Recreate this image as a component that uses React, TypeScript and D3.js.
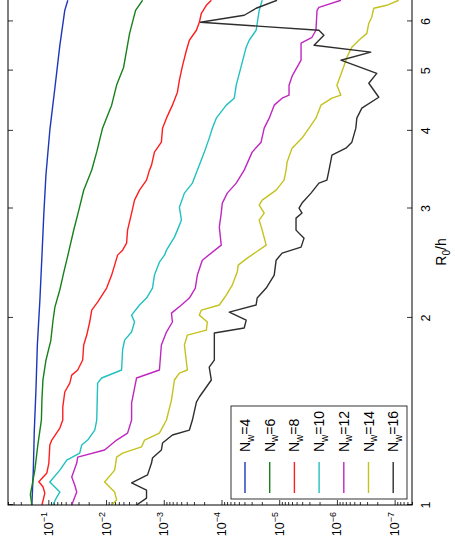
import React, { useEffect, useRef } from 'react';
import * as d3 from 'd3';

// [R0/h, error] pairs
const nw4 = [
  [1.0, 0.193], [1.14, 0.182], [1.32, 0.175], [1.53, 0.164], [1.81, 0.155], [2.14, 0.14],
  [2.52, 0.129], [2.93, 0.12], [3.4, 0.11], [4.01, 0.0942], [4.68, 0.0772], [5.49, 0.0632],
  [6.25, 0.0519], [6.49, 0.046],
];
const nw6 = [
  [1.0, 0.193], [1.04, 0.205], [1.07, 0.193], [1.14, 0.171], [1.25, 0.152], [1.37, 0.132],
  [1.48, 0.129], [1.59, 0.124], [1.71, 0.11], [1.84, 0.0905], [1.97, 0.0836], [2.08, 0.0772],
  [2.22, 0.0632], [2.37, 0.0539], [2.52, 0.046], [2.77, 0.0363], [2.98, 0.0297], [3.21, 0.0244],
  [3.46, 0.0177], [3.7, 0.0145], [4.04, 0.0115], [4.24, 0.00938], [4.4, 0.008], [4.74, 0.00656],
  [5.06, 0.00497], [5.74, 0.00391], [6.25, 0.00308], [6.49, 0.00233],
];
const nw8 = [
  [1.0, 0.129], [1.045, 0.115], [1.07, 0.124], [1.09, 0.146], [1.126, 0.106], [1.168, 0.098],
  [1.249, 0.0942], [1.272, 0.0871], [1.33, 0.0632], [1.37, 0.0562], [1.437, 0.0562], [1.52, 0.0519],
  [1.571, 0.0425], [1.618, 0.0393], [1.649, 0.031], [1.711, 0.0254], [1.809, 0.0244], [1.877, 0.0216],
  [1.97, 0.0192], [2.059, 0.0177], [2.121, 0.014], [2.234, 0.00977], [2.344, 0.008], [2.432, 0.0071],
  [2.524, 0.00631], [2.571, 0.00517], [2.638, 0.00441], [2.769, 0.00424], [2.95, 0.00361],
  [3.094, 0.00321], [3.211, 0.00263], [3.333, 0.00199], [3.458, 0.00177], [3.523, 0.00163],
  [3.697, 0.00145], [3.836, 0.0011], [4.04, 0.00105], [4.193, 0.000898], [4.4, 0.000708],
  [4.616, 0.00058], [4.826, 0.000536], [5.083, 0.000475], [5.393, 0.000405], [5.596, 0.00036],
  [5.807, 0.000272], [5.982, 0.000242], [6.184, 0.000223], [6.37, 0.000183], [6.49, 0.00015],
];
const nw10 = [
  [1.0, 0.0836], [1.03, 0.0713], [1.049, 0.0632], [1.069, 0.0772], [1.089, 0.0942], [1.138, 0.0632],
  [1.181, 0.0479], [1.212, 0.0286], [1.249, 0.0264], [1.272, 0.0208], [1.32, 0.0157], [1.37, 0.0145],
  [1.571, 0.014], [1.601, 0.0119], [1.649, 0.00538], [1.776, 0.00517], [1.842, 0.00477],
  [1.898, 0.00361], [1.97, 0.00321], [2.021, 0.00361], [2.098, 0.00263], [2.153, 0.00199],
  [2.234, 0.00157], [2.344, 0.00145], [2.459, 0.00119], [2.524, 0.000972], [2.571, 0.000898],
  [2.698, 0.000653], [2.769, 0.00058], [2.874, 0.000494], [3.015, 0.000536], [3.176, 0.000439],
  [3.296, 0.000319], [3.458, 0.000262], [3.697, 0.000198], [3.894, 0.000163], [4.04, 0.000144],
  [4.193, 0.000123], [4.4, 0.0000826], [4.515, 0.0000601], [4.738, 0.0000555], [5.083, 0.0000455],
  [5.454, 0.0000373], [5.596, 0.0000331], [5.807, 0.0000251], [6.253, 0.0000222], [6.49, 0.0000197],
];
const nw12 = [
  [1.0, 0.0393], [1.049, 0.0322], [1.077, 0.0349], [1.109, 0.0393], [1.168, 0.0322], [1.194, 0.031],
  [1.226, 0.0106], [1.272, 0.00656], [1.305, 0.00424], [1.37, 0.00361], [1.459, 0.00361],
  [1.601, 0.00296], [1.649, 0.00119], [1.809, 0.0011], [1.898, 0.000898], [1.97, 0.000708],
  [2.036, 0.000736], [2.098, 0.000494], [2.153, 0.00036], [2.234, 0.000284], [2.344, 0.000262],
  [2.477, 0.000215], [2.619, 0.000101], [2.8, 0.000109], [2.95, 0.000101], [3.061, 0.0000968],
  [3.176, 0.0000794], [3.296, 0.0000555], [3.458, 0.0000404], [3.697, 0.0000294], [3.836, 0.0000206],
  [4.04, 0.0000182], [4.193, 0.0000149], [4.4, 0.0000122], [4.515, 0.00000891], [4.565, 0.00000675],
  [4.738, 0.00000675], [4.898, 0.00000598], [5.197, 0.00000418], [5.535, 0.00000418],
  [5.658, 0.0000027], [5.807, 0.00000231], [6.253, 0.00000221], [6.322, 0.00000205], [6.49, 8.53e-7],
];
const nw14 = [
  [1.0, 0.008], [1.019, 0.00656], [1.049, 0.0071], [1.089, 0.0106], [1.138, 0.0071], [1.194, 0.00656],
  [1.212, 0.00517], [1.24, 0.00243], [1.272, 0.00215], [1.305, 0.00119], [1.37, 0.000898],
  [1.475, 0.000736], [1.589, 0.000653], [1.63, 0.000536], [1.649, 0.00039], [1.809, 0.000439],
  [1.877, 0.00039], [1.912, 0.000183], [1.97, 0.000176], [2.021, 0.000242], [2.059, 0.000223],
  [2.098, 0.000109], [2.177, 0.0000826], [2.259, 0.000065], [2.37, 0.0000533], [2.432, 0.0000513],
  [2.496, 0.0000358], [2.619, 0.0000168], [2.769, 0.0000197], [2.874, 0.0000222], [2.95, 0.0000182],
  [3.038, 0.0000222], [3.094, 0.0000197], [3.211, 0.0000113], [3.333, 0.00000823], [3.458, 0.0000076],
  [3.563, 0.0000073], [3.752, 0.00000598], [3.894, 0.00000402], [4.04, 0.00000304], [4.193, 0.00000231],
  [4.4, 0.00000189], [4.515, 0.00000122], [4.565, 8.53e-7], [4.738, 0.000001], [5.083, 7.57e-7],
  [5.255, 6.72e-7], [5.454, 5.51e-7], [5.596, 4.17e-7], [5.74, 3.03e-7], [5.96, 2.8e-7],
  [6.095, 2.49e-7], [6.3, 2.3e-7], [6.37, 1.37e-7], [6.49, 8.49e-8],
];
const nw16 = [
  [1.0, 0.00296], [1.026, 0.00199], [1.057, 0.00199], [1.085, 0.00361], [1.118, 0.00191], [1.168, 0.00163],
  [1.19, 0.00157], [1.226, 0.0011], [1.258, 0.00105], [1.296, 0.000708], [1.32, 0.00036], [1.37, 0.000319],
  [1.464, 0.000272], [1.492, 0.000242], [1.589, 0.00015], [1.667, 0.000163], [1.711, 0.000133],
  [1.891, 0.000133], [1.927, 0.0000404], [1.984, 0.0000373], [2.044, 0.0000733], [2.098, 0.0000251],
  [2.153, 0.0000241], [2.234, 0.0000168], [2.344, 0.0000122], [2.477, 0.0000113], [2.543, 0.00000891],
  [2.6, 0.00000418], [2.688, 0.00000371], [2.769, 0.00000511], [2.895, 0.00000511], [2.95, 0.00000402],
  [3.004, 0.00000453], [3.061, 0.00000402], [3.176, 0.00000281], [3.296, 0.00000205], [3.333, 0.00000149],
  [3.458, 0.00000137], [3.656, 0.00000122], [3.752, 7.0e-7], [3.836, 5.51e-7], [4.04, 4.7e-7],
  [4.193, 4.52e-7], [4.352, 3.7e-7], [4.53, 1.88e-7], [4.772, 2.8e-7], [4.95, 2.04e-7], [5.197, 8.53e-7],
  [5.354, 2.59e-7], [5.494, 0.00000249], [5.701, 0.00000168], [5.807, 0.00000205], [5.982, 0.000232],
  [6.139, 0.0000404], [6.3, 0.0000251], [6.49, 0.0000109],
];

const series = [nw4, nw6, nw8, nw10, nw12, nw14, nw16];
const seriesNames = ['4', '6', '8', '10', '12', '14', '16'];
const seriesColors = ['#1c37b8', '#17801c', '#ff1e1e', '#22c0c0', '#c026c0', '#c4c21e', '#2e2e2e'];
const xTicks = [1, 2, 3, 4, 5, 6];
const yTickExps = [-1, -2, -3, -4, -5, -6, -7];

export default function App() {
  const ref = useRef<SVGSVGElement>(null);

  useEffect(() => {
    const svg = d3.select(ref.current);
    svg.selectAll('*').remove();

    // plot drawn in its original (landscape) frame, then turned a quarter turn
    const W = 506;
    const H = 404;
    const x = d3.scaleLog().domain([1, 6.52]).range([0, W]);
    const y = d3.scaleLog().domain([5e-8, 0.5]).range([H, 0]);

    const g = svg.append('g').attr('transform', 'translate(8,505) rotate(-90)');
    const font = 'Liberation Sans, Arial, Helvetica, sans-serif';

    g.append('clipPath').attr('id', 'plotclip')
      .append('rect').attr('width', W).attr('height', H);

    // minor log ticks
    const minor: number[] = [];
    for (let e = -8; e <= -1; e++) {
      for (let m = 2; m <= 9; m++) {
        const v = m * Math.pow(10, e);
        if (v >= 5e-8 && v <= 0.5) minor.push(v);
      }
    }
    const yMajor = yTickExps.map(e => Math.pow(10, e));

    g.append('g').call(d3.axisLeft(y).tickValues(minor).tickSize(-3).tickSizeOuter(0).tickFormat(() => ''))
      .call(a => a.select('.domain').remove());
    g.append('g').call(d3.axisLeft(y).tickValues(yMajor).tickSize(-5).tickSizeOuter(0).tickFormat(() => ''))
      .call(a => a.select('.domain').remove());
    g.append('g').attr('transform', `translate(0,${H})`)
      .call(d3.axisBottom(x).tickValues(xTicks).tickSize(-5).tickSizeOuter(0).tickFormat(() => ''))
      .call(a => a.select('.domain').remove());
    g.append('g')
      .call(d3.axisTop(x).tickValues(xTicks).tickSize(-5).tickSizeOuter(0).tickFormat(() => ''))
      .call(a => a.select('.domain').remove());
    g.selectAll('.tick line').attr('stroke', '#000').attr('stroke-width', 0.8);

    // y tick labels 10^-k
    const yl = g.append('g').attr('font-family', font).attr('font-size', 12.5).attr('fill', '#000');
    yTickExps.forEach(e => {
      const t = yl.append('text').attr('x', -7).attr('y', y(Math.pow(10, e)) + 4.5).attr('text-anchor', 'end');
      t.append('tspan').text('10');
      t.append('tspan').attr('dy', -5.5).attr('font-size', 9).text('\u2212' + Math.abs(e));
    });

    // x tick labels
    g.append('g').selectAll('text').data(xTicks).enter().append('text')
      .attr('x', d => x(d)).attr('y', H + 18)
      .attr('text-anchor', 'middle').attr('font-family', font).attr('font-size', 12.5)
      .text(d => String(d));

    // x label R_0/h
    const xl = g.append('text').attr('x', x(Math.sqrt(6.52))).attr('y', H + 34)
      .attr('text-anchor', 'middle').attr('font-family', font).attr('font-size', 14);
    xl.append('tspan').text('R');
    xl.append('tspan').attr('dy', 3.5).attr('font-size', 10).text('0');
    xl.append('tspan').attr('dy', -3.5).text('/h');

    // curves
    const line = d3.line<number[]>().x(d => x(d[0])).y(d => y(d[1]));
    const lines = g.append('g').attr('clip-path', 'url(#plotclip)');
    series.forEach((s, i) => {
      lines.append('path').datum(s).attr('d', line)
        .attr('fill', 'none').attr('stroke', seriesColors[i]).attr('stroke-width', 1.4)
        .attr('stroke-linejoin', 'round');
    });

    // box
    g.append('rect').attr('width', W).attr('height', H)
      .attr('fill', 'none').attr('stroke', '#000').attr('stroke-width', 1);

    // legend (south-west)
    const lg = g.append('g').attr('transform', 'translate(6,223)');
    lg.append('rect').attr('width', 93).attr('height', 176)
      .attr('fill', '#fff').attr('stroke', '#000').attr('stroke-width', 0.8);
    seriesNames.forEach((n, i) => {
      const cy = 14 + i * 24.7;
      lg.append('line').attr('x1', 6).attr('x2', 37).attr('y1', cy).attr('y2', cy)
        .attr('stroke', seriesColors[i]).attr('stroke-width', 1.4);
      const t = lg.append('text').attr('x', 47).attr('y', cy + 5)
        .attr('font-family', font).attr('font-size', 14);
      t.append('tspan').text('N');
      t.append('tspan').attr('dy', 3.5).attr('font-size', 10).text('w');
      t.append('tspan').attr('dy', -3.5).text('=' + n);
    });
  }, []);

  return (
    <svg ref={ref} width={455} height={552}
      style={{ position: 'absolute', left: 0, top: 0, background: '#fff' }} />
  );
}
